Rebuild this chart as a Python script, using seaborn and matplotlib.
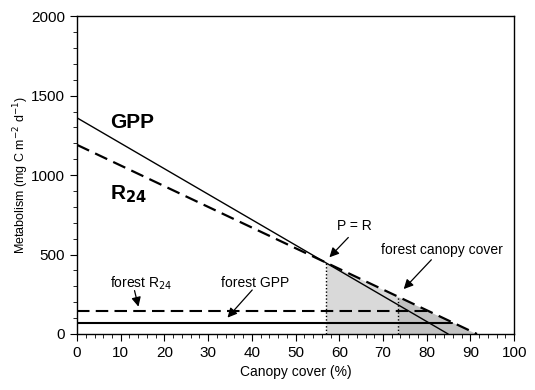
import numpy as np
import pandas as pd
import matplotlib
matplotlib.use("Agg")
import matplotlib.pyplot as plt
from matplotlib.ticker import MultipleLocator
import seaborn as sns

# GPP and R24 lines vs canopy cover (end points)
gpp_cover = [0, 84.9]
gpp_vals = [1360, 0]
r24_cover = [0, 91.5]
r24_vals = [1190, 0]

# forest reference levels
forest_gpp = 70
forest_r24 = 145
forest_gpp_end = 85.8
forest_r24_end = 81.5

# P = R point and forest canopy cover
pr_cover = 57
forest_cover = 73.5

sns.set_style("ticks")
plt.rcParams["font.family"] = ["Liberation Sans", "DejaVu Sans"]
plt.rcParams.update({
    "xtick.direction": "out", "ytick.direction": "out",
    "xtick.major.size": 5, "ytick.major.size": 5,
    "xtick.minor.size": 3, "ytick.minor.size": 3,
    "xtick.minor.visible": True, "ytick.minor.visible": True,
    "axes.linewidth": 1.0,
    "text.color": "black", "axes.labelcolor": "black",
    "xtick.color": "black", "ytick.color": "black",
    "axes.edgecolor": "black",
})

fig = plt.figure(figsize=(5.35, 3.9), dpi=100)
ax = fig.add_axes([0.144, 0.1436, 0.817, 0.815])

# shaded areas under R24 beyond P = R
xs1 = np.linspace(pr_cover, forest_cover, 50)
xs2 = np.linspace(forest_cover, r24_cover[1], 50)
r24_interp = lambda x: np.interp(x, r24_cover, r24_vals)
ax.fill_between(xs1, 0, r24_interp(xs1), color="#d9d9d9", lw=0, zorder=1)
ax.fill_between(xs2, 0, r24_interp(xs2), color="#c2c2c2", lw=0, zorder=1)

lines = pd.DataFrame({"cover": gpp_cover, "value": gpp_vals})
sns.lineplot(data=lines, x="cover", y="value", color="black", lw=1.0, ax=ax, zorder=3)
lines_r = pd.DataFrame({"cover": r24_cover, "value": r24_vals})
sns.lineplot(data=lines_r, x="cover", y="value", color="black", lw=1.6, ax=ax,
             zorder=3, dashes=False, linestyle=(0, (6, 3)))

ax.plot([0, forest_gpp_end], [forest_gpp, forest_gpp], color="black", lw=1.5, zorder=3)
ax.plot([0, forest_r24_end], [forest_r24, forest_r24], color="black", lw=1.5,
        linestyle=(0, (6, 3)), zorder=3)

ax.plot([pr_cover, pr_cover], [0, r24_interp(pr_cover)], color="black", lw=1.0,
        linestyle=(0, (1, 1.5)), zorder=2)
ax.plot([forest_cover, forest_cover], [0, r24_interp(forest_cover)], color="black", lw=1.0,
        linestyle=(0, (1, 1.5)), zorder=2)

ax.set_xlim(0, 100)
ax.set_ylim(0, 2000)
ax.xaxis.set_major_locator(MultipleLocator(10))
ax.xaxis.set_minor_locator(MultipleLocator(2))
ax.yaxis.set_major_locator(MultipleLocator(500))
ax.yaxis.set_minor_locator(MultipleLocator(100))
ax.tick_params(labelsize=11)
ax.set_xlabel("Canopy cover (%)", fontsize=10)
ax.set_ylabel("Metabolism (mg C m$^{-2}$ d$^{-1}$)", fontsize=9)
ax.yaxis.set_label_coords(-0.105, 0.5)
for s in ax.spines.values():
    s.set_visible(True)

# labels
ax.text(7.5, 1330, "GPP", fontsize=15, fontweight="bold", va="center")
ax.text(7.5, 880, "R$_{\\mathbf{24}}$", fontsize=15, fontweight="bold", va="center")

arrow = dict(arrowstyle="-|>", color="black", lw=0.9, mutation_scale=14)
ax.text(63.5, 680, "P = R", fontsize=10, ha="center", va="center")
ax.annotate("", xy=(57.3, 470), xytext=(62.5, 620), arrowprops=arrow)
ax.text(83.5, 530, "forest canopy cover", fontsize=10, ha="center", va="center")
ax.annotate("", xy=(74.3, 270), xytext=(81.5, 480), arrowprops=arrow)
ax.text(7.5, 320, "forest R$_{24}$", fontsize=10, va="center")
ax.annotate("", xy=(14.2, 155), xytext=(13.0, 290), arrowprops=arrow)
ax.text(33.0, 320, "forest GPP", fontsize=10, va="center")
ax.annotate("", xy=(34.0, 90), xytext=(40.5, 290), arrowprops=arrow)

fig.savefig("out.png", dpi=100)
